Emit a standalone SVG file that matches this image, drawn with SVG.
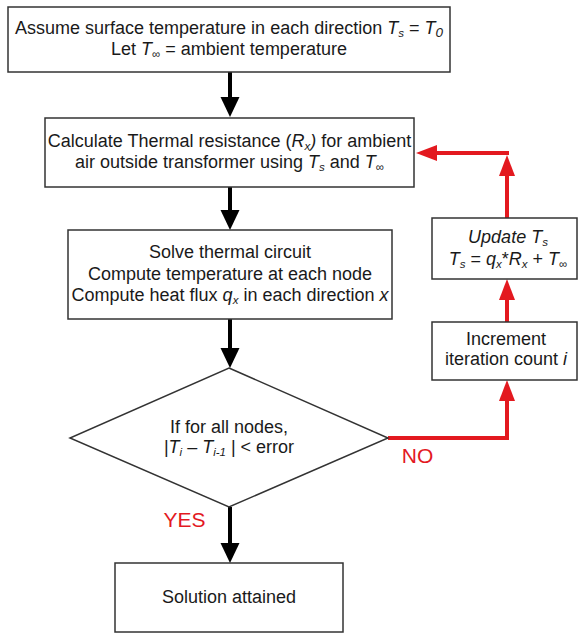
<svg xmlns="http://www.w3.org/2000/svg" width="579" height="633" viewBox="0 0 579 633">
<style>
text{font-family:"Liberation Sans",Arial,sans-serif;font-size:18px;fill:#1a1a1a;text-anchor:middle}
.box{fill:#fff;stroke:#333;stroke-width:1.5}
.i{font-style:italic}
.sb{font-size:11.5px}
.red{fill:#e3191f;font-size:21px}
.blk{fill:none;stroke:#000;stroke-width:4}
.rd{fill:none;stroke:#e3191f;stroke-width:4;stroke-linejoin:miter}
</style>
<defs>
<marker id="ab" markerUnits="userSpaceOnUse" markerWidth="22" markerHeight="22" refX="0" refY="10" orient="auto" viewBox="0 0 22 20" overflow="visible">
<path d="M0,0.5 L20,10 L0,19.5 Z" fill="#000"/>
</marker>
<marker id="ar" markerUnits="userSpaceOnUse" markerWidth="22" markerHeight="18" refX="0" refY="8" orient="auto" viewBox="0 0 22 16" overflow="visible">
<path d="M0,0 L21,8 L0,16 Z" fill="#e3191f"/>
</marker>
</defs>

<g id="connectors">
<path class="blk" d="M230,72 V97" marker-end="url(#ab)"/>
<path class="blk" d="M230,187 V210" marker-end="url(#ab)"/>
<path class="blk" d="M230,319 V348" marker-end="url(#ab)"/>
<path class="blk" d="M230,507 V543" marker-end="url(#ab)"/>
<path class="rd" d="M388,438 H507 V401" marker-end="url(#ar)"/>
<path class="rd" d="M507,322 V300" marker-end="url(#ar)"/>
<path class="rd" d="M507,218 V176" marker-end="url(#ar)"/>
<path class="rd" d="M509,153 H437" marker-end="url(#ar)"/>
</g>

<g id="start">
<rect class="box" x="8" y="7" width="442" height="65"/>
<text x="229" y="34">Assume surface temperature in each direction <tspan class="i">T</tspan><tspan class="sb i" dy="3">s</tspan><tspan dy="-3"> = </tspan><tspan class="i">T</tspan><tspan class="i" font-size="13.5" dy="3">0</tspan></text>
<text x="229" y="55">Let <tspan class="i">T</tspan><tspan class="sb" dy="3">∞</tspan><tspan dy="-3"> = ambient temperature</tspan></text>
</g>

<g id="calc-resistance">
<rect class="box" x="45" y="118" width="369" height="69"/>
<text x="229.5" y="147">Calculate Thermal resistance (<tspan class="i">R</tspan><tspan class="sb i" dy="2.5">x</tspan><tspan class="i" dy="-2.5">)</tspan> for ambient</text>
<text x="229.5" y="167.5">air outside transformer using <tspan class="i">T</tspan><tspan class="sb i" dy="3">s</tspan><tspan dy="-3"> and </tspan><tspan class="i">T</tspan><tspan class="sb" dy="3">∞</tspan></text>
</g>

<g id="solve">
<rect class="box" x="68" y="230" width="324" height="89"/>
<text x="230" y="258">Solve thermal circuit</text>
<text x="230" y="280">Compute temperature at each node</text>
<text x="230" y="301">Compute heat flux <tspan class="i">q</tspan><tspan class="sb i" dy="3">x</tspan><tspan dy="-3"> in each direction </tspan><tspan class="i">x</tspan></text>
</g>

<g id="decision">
<polygon class="box" points="229,368 388,438 229,507 70,438"/>
<text x="229" y="433">If for all nodes,</text>
<text x="229" y="453">|<tspan class="i">T</tspan><tspan class="sb i" dy="3">i</tspan><tspan dy="-3"> – </tspan><tspan class="i">T</tspan><tspan class="sb i" dy="3">i-1</tspan><tspan dy="-3"> | &lt; error</tspan></text>
</g>

<g id="increment">
<rect class="box" x="432" y="322" width="145" height="58"/>
<text x="506" y="345">Increment</text>
<text x="506" y="365">iteration count <tspan class="i">i</tspan></text>
</g>

<g id="update">
<rect class="box" x="432" y="218" width="145" height="61"/>
<text x="508" y="243"><tspan class="i">Update T</tspan><tspan class="sb i" dy="3">s</tspan></text>
<text x="508" y="265"><tspan class="i">T</tspan><tspan class="sb i" dy="3">s</tspan><tspan dy="-3"> = </tspan><tspan class="i">q</tspan><tspan class="sb i" dy="3">x</tspan><tspan dy="-3">*</tspan><tspan class="i">R</tspan><tspan class="sb i" dy="3">x</tspan><tspan dy="-3"> + </tspan><tspan class="i">T</tspan><tspan class="sb" dy="3">∞</tspan></text>
</g>

<g id="solution">
<rect class="box" x="115" y="563" width="228" height="69"/>
<text x="229" y="603">Solution attained</text>
</g>

<g id="labels">
<text class="red" x="184.5" y="527">YES</text>
<text class="red" x="417.5" y="463">NO</text>
</g>
</svg>
